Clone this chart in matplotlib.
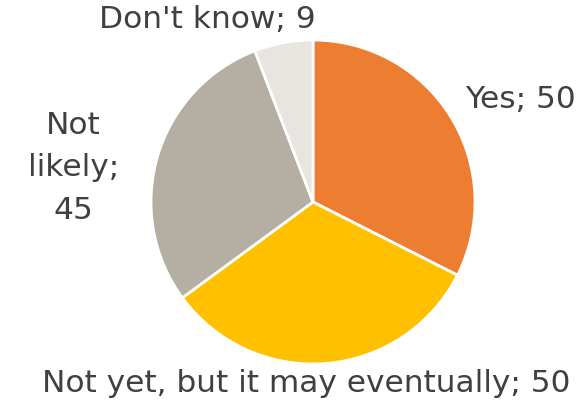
import matplotlib.pyplot as plt

# survey answers
labels = ["Yes", "Not yet, but it may eventually", "Not likely", "Don't know"]
values = [50, 50, 45, 9]
colors = ["#ED7D31", "#FFC000", "#B5AEA2", "#E8E5E0"]

# label text and its spot (pie units, radius = 1)
label_text = ["Yes; 50", "Not yet, but it may eventually; 50", "Not\nlikely;\n45", "Don't know; 9"]
label_pos = [(1.28, 0.63), (-0.04, -1.12), (-1.48, 0.21), (-0.655, 1.125)]

plt.rcParams['font.family'] = ['DejaVu Sans']

fig = plt.figure(figsize=(5.88, 4.03), dpi=100)
ax = fig.add_axes([151/588, 39/403, 324/588, 324/403])

ax.pie(values, colors=colors, startangle=90, counterclock=False, radius=1,
       wedgeprops=dict(edgecolor="white", linewidth=2))
ax.set_xlim(-1, 1)
ax.set_ylim(-1, 1)
ax.set_aspect("equal")

for txt, (x, y) in zip(label_text, label_pos):
    ax.text(x, y, txt, ha="center", va="center", fontsize=22.5, color="#404040",
            linespacing=1.6, clip_on=False)

fig.savefig("out.png", dpi=100)
